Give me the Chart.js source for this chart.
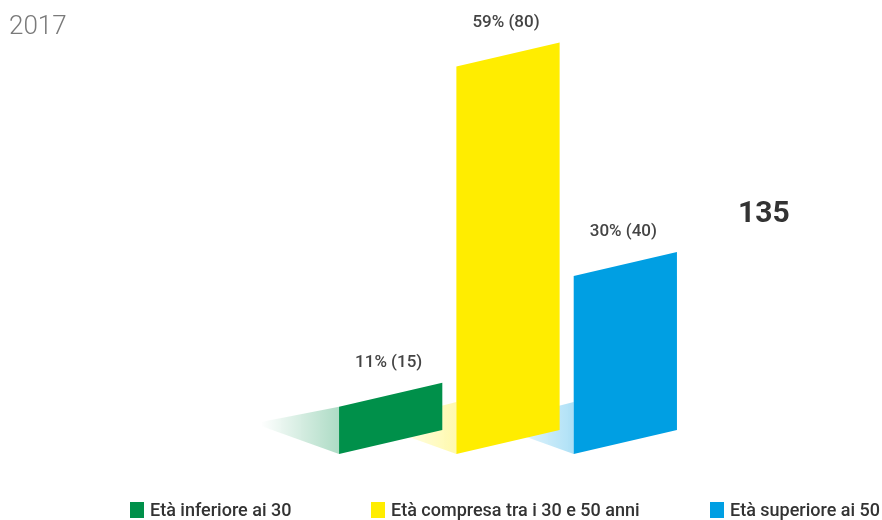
<!DOCTYPE html>
<html>
<head>
<meta charset="utf-8">
<script src="https://cdn.jsdelivr.net/npm/chart.js@4/dist/chart.umd.min.js"></script>
<style>
  html, body { margin: 0; padding: 0; background: #fff; }
  #wrap { position: relative; width: 882px; height: 520px; overflow: hidden; font-family: Roboto, "Noto Sans", sans-serif; }
  #c { position: absolute; left: 0; top: 0; }
  #year { position: absolute; left: 9px; top: 12px; font-size: 26px; font-weight: 300; color: #7a7a7a; line-height: 1; }
  #total { position: absolute; left: 738px; top: 197px; font-size: 30px; font-weight: 700; color: #333; line-height: 1; }
  .lg { position: absolute; top: 501px; display: flex; align-items: center; font-size: 18px; font-weight: 500; color: #333; white-space: nowrap; line-height: 1; }
  .lg span.box { display: inline-block; width: 14px; height: 16px; margin-right: 6px; }
</style>
</head>
<body>
<div id="wrap">
  <canvas id="c" width="882" height="520"></canvas>
  <div id="year"></div>
  <div id="total"></div>
  <div id="legend"></div>
</div>
<script>
const yearLabel = "2017";
const totalLabel = "135";
const categories = ["Età inferiore ai 30", "Età compresa tra i 30 e 50 anni", "Età superiore ai 50"];
const counts = [15, 80, 40];
const percents = [11, 59, 30];
const colors = ["#00904A", "#FFED00", "#009FE3"];
const shadowColors = ["0,144,74", "255,237,0", "0,159,227"];
const legendLeft = [130, 371, 710];
const yMin = 6;
const yMax = 90;

document.getElementById('year').textContent = yearLabel;
document.getElementById('total').textContent = totalLabel;
const lg = document.getElementById('legend');
categories.forEach((c, i) => {
  const d = document.createElement('div');
  d.className = 'lg';
  d.style.left = legendLeft[i] + 'px';
  const b = document.createElement('span');
  b.className = 'box';
  b.style.background = colors[i];
  d.appendChild(b);
  d.appendChild(document.createTextNode(c));
  lg.appendChild(d);
});

const SLANT = 24;

const skewBars = {
  id: 'skewBars',
  beforeDatasetsDraw(chart) {
    const ctx = chart.ctx;
    const meta = chart.getDatasetMeta(0);
    const els = meta.data;
    ctx.save();
    els.forEach((el, i) => {
      const p = el.getProps(['x', 'y', 'base', 'width'], true);
      const left = p.x - p.width / 2;
      const h = p.base - p.y;
      const sh = Math.min(52, h);
      const len = 78;
      const g = ctx.createLinearGradient(left, 0, left - len, 0);
      g.addColorStop(0, 'rgba(' + shadowColors[i] + ',0.32)');
      g.addColorStop(1, 'rgba(' + shadowColors[i] + ',0)');
      ctx.fillStyle = g;
      ctx.beginPath();
      ctx.moveTo(left, p.base - sh);
      ctx.lineTo(left, p.base);
      ctx.lineTo(left - len, p.base - 28);
      ctx.lineTo(left - len, p.base - 32);
      ctx.closePath();
      ctx.fill();
    });
    els.forEach((el, i) => {
      const p = el.getProps(['x', 'y', 'base', 'width'], true);
      const left = p.x - p.width / 2;
      const right = p.x + p.width / 2;
      ctx.fillStyle = colors[i];
      ctx.beginPath();
      ctx.moveTo(left, p.base);
      ctx.lineTo(left, p.y);
      ctx.lineTo(right, p.y - SLANT);
      ctx.lineTo(right, p.base - SLANT);
      ctx.closePath();
      ctx.fill();
      ctx.fillStyle = '#444';
      ctx.font = '500 17px Roboto, "Noto Sans", sans-serif';
      ctx.textAlign = 'center';
      ctx.textBaseline = 'middle';
      ctx.fillText(percents[i] + '% (' + counts[i] + ')', p.x - 2, p.y - SLANT / 2 - 32);
    });
    ctx.restore();
    return false;
  }
};

new Chart(document.getElementById('c'), {
  type: 'bar',
  data: {
    labels: categories,
    datasets: [{
      data: counts,
      base: yMin,
      backgroundColor: colors,
      categoryPercentage: 1,
      barPercentage: 0.88
    }]
  },
  options: {
    responsive: false,
    animation: false,
    layout: { padding: { left: 332, right: 198, top: 14, bottom: 66 } },
    plugins: { legend: { display: false }, tooltip: { enabled: false }, title: { display: false } },
    scales: {
      x: { display: false },
      y: { display: false, min: yMin, max: yMax }
    }
  },
  plugins: [skewBars]
});
</script>
</body>
</html>
